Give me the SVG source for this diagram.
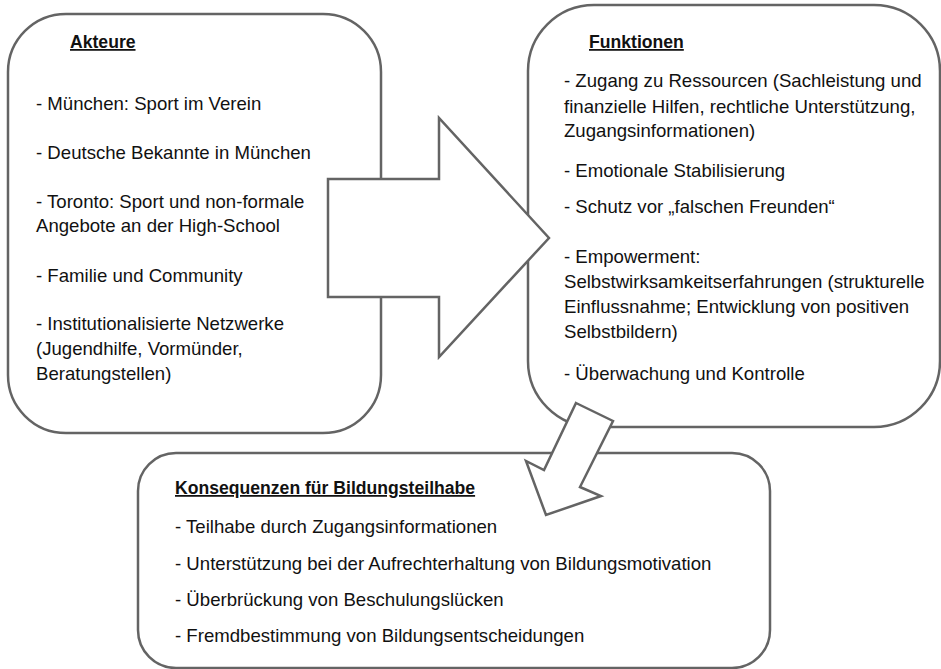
<svg xmlns="http://www.w3.org/2000/svg" width="941" height="669" viewBox="0 0 941 669">
<style>
.box{fill:#ffffff;stroke:#646464;stroke-width:2.5}
.arrow{fill:#ffffff;stroke:#646464;stroke-width:2.5;stroke-linejoin:miter}
.t{font-family:"Liberation Sans",Arial,sans-serif;font-size:18.6px;fill:#111111}
.h{font-family:"Liberation Sans",Arial,sans-serif;font-size:17.6px;font-weight:bold;fill:#111111;text-decoration:underline}
</style>
<rect width="941" height="669" fill="#ffffff"/>
<g id="node-akteure">
<rect class="box" x="8" y="14" width="373" height="419" rx="58" ry="58"/>
<text class="h" x="70" y="48">Akteure</text>
<text class="t" x="36" y="110">- München: Sport im Verein</text>
<text class="t" x="36" y="159">- Deutsche Bekannte in München</text>
<text class="t" x="36" y="208">- Toronto: Sport und non-formale</text>
<text class="t" x="36" y="232">Angebote an der High-School</text>
<text class="t" x="36" y="282">- Familie und Community</text>
<text class="t" x="36" y="330">- Institutionalisierte Netzwerke</text>
<text class="t" x="36" y="355">(Jugendhilfe, Vormünder,</text>
<text class="t" x="36" y="380">Beratungstellen)</text>
</g>
<g id="node-funktionen">
<rect class="box" x="528" y="5" width="412" height="422" rx="66" ry="66"/>
<text class="h" x="589" y="48">Funktionen</text>
<text class="t" x="564" y="87">- Zugang zu Ressourcen (Sachleistung und</text>
<text class="t" x="564" y="113">finanzielle Hilfen, rechtliche Unterstützung,</text>
<text class="t" x="564" y="137">Zugangsinformationen)</text>
<text class="t" x="564" y="177">- Emotionale Stabilisierung</text>
<text class="t" x="564" y="213">- Schutz vor „falschen Freunden“</text>
<text class="t" x="564" y="263">- Empowerment:</text>
<text class="t" x="564" y="288">Selbstwirksamkeitserfahrungen (strukturelle</text>
<text class="t" x="564" y="313">Einflussnahme; Entwicklung von positiven</text>
<text class="t" x="564" y="338">Selbstbildern)</text>
<text class="t" x="564" y="380">- Überwachung und Kontrolle</text>
</g>
<g id="node-konsequenzen">
<rect class="box" x="138" y="453" width="632" height="215" rx="38" ry="38"/>
<text class="h" x="175" y="494">Konsequenzen für Bildungsteilhabe</text>
<text class="t" x="175" y="533">- Teilhabe durch Zugangsinformationen</text>
<text class="t" x="175" y="570">- Unterstützung bei der Aufrechterhaltung von Bildungsmotivation</text>
<text class="t" x="175" y="606">- Überbrückung von Beschulungslücken</text>
<text class="t" x="175" y="642">- Fremdbestimmung von Bildungsentscheidungen</text>
</g>
<g id="connectors">
<polygon id="arrow-akteure-funktionen" class="arrow" points="328,179 439,179 439,118 549,238 439,357 439,297 328,297"/>
<polygon id="arrow-funktionen-konsequenzen" class="arrow" points="576,403 613,421 580,487 601,496 546,515 526,461 544,470"/>
</g>
</svg>
